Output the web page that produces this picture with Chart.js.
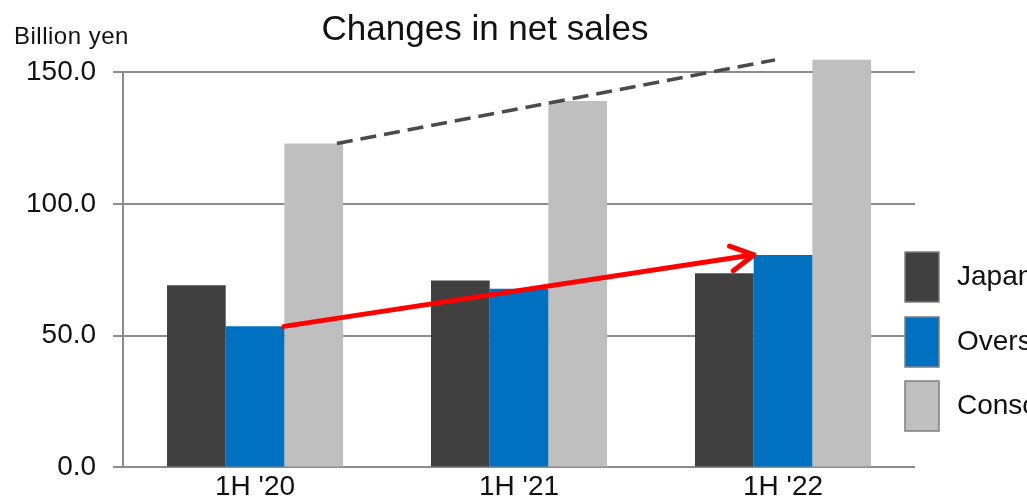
<!DOCTYPE html>
<html>
<head>
<meta charset="utf-8">
<script src="https://cdn.jsdelivr.net/npm/chart.js@4.4.0/dist/chart.umd.min.js"></script>
<style>
  html, body { margin: 0; padding: 0; background: #fff; overflow: hidden; }
  #wrap { width: 1027px; height: 499px; overflow: hidden; }
</style>
</head>
<body>
<div id="wrap"><canvas id="salesChart" width="1027" height="507"></canvas></div>
<script>
// data (billion yen)
var periods = ["1H '20", "1H '21", "1H '22"];
var seriesNames = ['Japan', 'Overseas', 'Consolidated'];
var japanSales = [69.1, 70.9, 73.7];
var overseasSales = [53.5, 67.8, 80.6];
var consolidatedSales = [122.9, 139.0, 154.6];
var yTickValues = [0, 50, 100, 150];

var FONT = '"Liberation Sans", Arial, sans-serif';

// title, unit label, side legend and the two trend annotations
var extrasPlugin = {
  id: 'extras',
  afterDatasetsDraw: function(chart) {
    var ctx = chart.ctx;
    var xs = chart.scales.x, ys = chart.scales.y;
    function pt(idx, v) { return [xs.getPixelForValue(idx), ys.getPixelForValue(v)]; }

    ctx.save();
    // grey dashed line over the consolidated bars
    var a = pt(0.31, consolidatedSales[0]);
    var b = pt(1.97, consolidatedSales[2]);
    ctx.strokeStyle = '#4a4a4a';
    ctx.lineWidth = 3.5;
    ctx.setLineDash([16, 8]);
    ctx.beginPath();
    ctx.moveTo(a[0], a[1]);
    ctx.lineTo(b[0], b[1]);
    ctx.stroke();
    ctx.setLineDash([]);

    // red arrow over the overseas bars
    var s = pt(0.11, overseasSales[0]);
    var e = pt(1.89, overseasSales[2]);
    var ang = Math.atan2(e[1] - s[1], e[0] - s[0]);
    ctx.strokeStyle = '#ff0000';
    ctx.lineWidth = 5;
    ctx.lineCap = 'round';
    ctx.lineJoin = 'round';
    ctx.beginPath();
    ctx.moveTo(s[0], s[1]);
    ctx.lineTo(e[0] - 2, e[1]);
    ctx.stroke();
    ctx.beginPath();
    ctx.moveTo(e[0] - 26 * Math.cos(ang - 0.5), e[1] - 26 * Math.sin(ang - 0.5));
    ctx.lineTo(e[0], e[1]);
    ctx.lineTo(e[0] - 26 * Math.cos(ang + 0.5), e[1] - 26 * Math.sin(ang + 0.5));
    ctx.stroke();
    ctx.restore();
  },
  afterDraw: function(chart) {
    var ctx = chart.ctx;
    ctx.save();
    ctx.fillStyle = '#111';
    ctx.textBaseline = 'alphabetic';
    ctx.textAlign = 'center';
    ctx.font = '35px ' + FONT;
    ctx.fillText('Changes in net sales', 485, 40);

    ctx.textAlign = 'left';
    ctx.font = '24px ' + FONT;
    ctx.letterSpacing = '0.5px';
    ctx.fillText('Billion yen', 14, 44);
    ctx.letterSpacing = '0px';

    // legend
    var rows = [277, 342, 406];
    ctx.font = '28px ' + FONT;
    ctx.textBaseline = 'middle';
    chart.data.datasets.forEach(function(ds, i) {
      var cy = rows[i];
      ctx.fillStyle = ds.backgroundColor;
      ctx.fillRect(905, cy - 25, 34, 50);
      ctx.strokeStyle = '#7f7f7f';
      ctx.lineWidth = 1.5;
      ctx.strokeRect(905, cy - 25, 34, 50);
      ctx.fillStyle = '#111';
      ctx.fillText(ds.label, 957, cy);
    });
    ctx.restore();
  }
};

new Chart(document.getElementById('salesChart'), {
  type: 'bar',
  data: {
    labels: periods,
    datasets: [
      { label: seriesNames[0], data: japanSales, backgroundColor: '#404040' },
      { label: seriesNames[1], data: overseasSales, backgroundColor: '#0070c0' },
      { label: seriesNames[2], data: consolidatedSales, backgroundColor: '#bfbfbf', clip: false }
    ]
  },
  options: {
    responsive: false,
    animation: false,
    layout: { padding: { top: 72, left: 9, right: 112, bottom: 0 } },
    datasets: { bar: { categoryPercentage: 0.667, barPercentage: 1.0, borderWidth: 0 } },
    plugins: {
      legend: { display: false },
      title: { display: false },
      tooltip: { enabled: false }
    },
    scales: {
      x: {
        grid: { display: false, drawTicks: false },
        border: { display: false },
        ticks: { color: '#111', font: { family: FONT, size: 28 }, padding: 3 }
      },
      y: {
        min: 0,
        max: 150,
        afterBuildTicks: function(axis) {
          axis.ticks = yTickValues.map(function(v) { return { value: v }; });
        },
        grid: { color: '#8c8c8c', lineWidth: 2, tickLength: 10 },
        border: { display: true, color: '#8c8c8c', width: 2 },
        ticks: {
          color: '#111',
          font: { family: FONT, size: 28 },
          padding: 17,
          callback: function(v) { return Number(v).toFixed(1); }
        }
      }
    }
  },
  plugins: [extrasPlugin]
});
</script>
</body>
</html>
